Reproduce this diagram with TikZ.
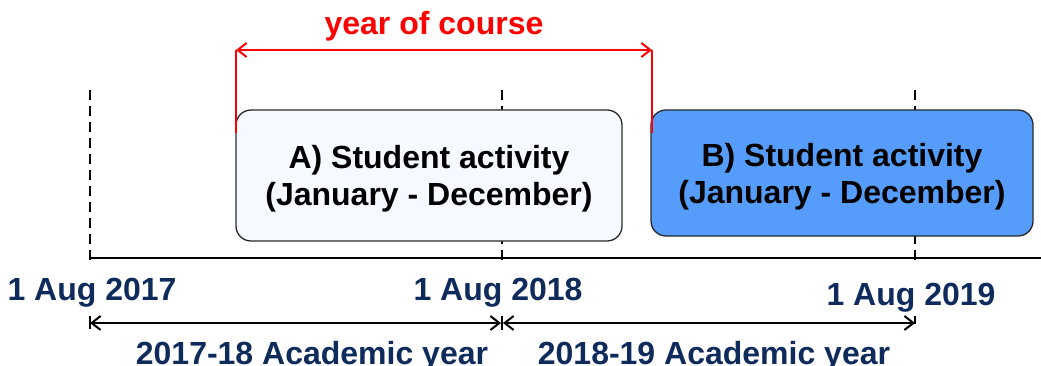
\documentclass[tikz,border=0pt]{standalone}
\usepackage{fontspec}
\setmainfont{Liberation Sans}
\usetikzlibrary{arrows.meta}
\definecolor{navy}{HTML}{0E2B5C}
\definecolor{boxA}{HTML}{F6F9FF}
\definecolor{boxB}{HTML}{569DFB}
\definecolor{edge}{HTML}{2A2A2A}
\definecolor{redc}{HTML}{FF0000}
\tikzset{
  actbox/.style={draw=edge, line width=1.3pt, rounded corners=15pt, inner sep=0pt},
  boxtext/.style={font=\fontsize{32}{37}\selectfont\bfseries, align=center, text=black},
  datelbl/.style={font=\fontsize{32}{37}\selectfont\bfseries, text=navy, anchor=base},
  dashv/.style={line width=2pt, dash pattern=on 10pt off 6pt},
  axisline/.style={line width=1.6pt},
  darr/.style={line width=1.8pt, {Straight Barb[length=9pt,width=14pt,line width=2pt]}-{Straight Barb[length=9pt,width=14pt,line width=2pt]}},
  rarr/.style={draw=redc, line width=2pt, {Straight Barb[length=9pt,width=14pt,line width=2pt]}-{Straight Barb[length=9pt,width=14pt,line width=2pt]}},
  redline/.style={draw=redc, line width=2pt},
}
\begin{document}
\begin{tikzpicture}[x=1pt,y=-1pt]
\useasboundingbox (0,0) rectangle (1041,366);
% timeline coordinates
\coordinate (t17top) at (90,90);
\coordinate (t18top) at (502,90);
\coordinate (t19top) at (915,90);
\coordinate (t17) at (90,265);
\coordinate (t18) at (502,265);
\coordinate (t19) at (915,265);
\coordinate (ax0) at (90,258);
\coordinate (ax1) at (1041,258);
% dashed verticals
\draw[dashv] (t17top) -- (t17);
\draw[dashv] (t18top) -- (t18);
\draw[dashv] (t19top) -- (t19);
% axis
\draw[axisline] (ax0) -- (ax1);
% boxes
\node[actbox, fill=boxA, minimum width=386pt, minimum height=131pt] (A) at (429,175.5) {};
\node[boxtext] (Atext) at ([yshift=-3pt]A.center) {A) Student activity\\(January - December)};
\node[actbox, fill=boxB, minimum width=382pt, minimum height=126pt] (B) at (842,173) {};
\node[boxtext] (Btext) at ([yshift=-4pt]B.center) {B) Student activity\\(January - December)};
% red year-of-course bracket
\coordinate (r1b) at (236,133);
\coordinate (r1t) at (236,50);
\coordinate (r2b) at (652,133);
\coordinate (r2t) at (652,50);
\draw[redline] (r1b) -- (r1t);
\draw[redline] (r2b) -- (r2t);
\draw[rarr] (r1t) -- (r2t);
\node[font=\fontsize{32}{37}\selectfont\bfseries, text=redc, anchor=base] (yoc) at (434,35) {year of course};
% date labels
\node[datelbl] (d17) at (92,300) {1 Aug 2017};
\node[datelbl] (d18) at (498,300) {1 Aug 2018};
\node[datelbl] (d19) at (911,305) {1 Aug 2019};
% academic year arrows
\coordinate (a17) at (90,323);
\coordinate (a18) at (502,323);
\coordinate (a19) at (915,323);
\draw[line width=2pt] (90,316) -- (90,329);
\draw[line width=2pt] (502,316) -- (502,330);
\draw[line width=2pt] (915,316) -- (915,324);
\draw[darr] (a17) -- ([xshift=-1pt]a18);
\draw[darr] ([xshift=1pt]a18) -- (a19);
\node[datelbl] (ay1) at (312,364) {2017-18 Academic year};
\node[datelbl] (ay2) at (714,364) {2018-19 Academic year};
\end{tikzpicture}
\end{document}
